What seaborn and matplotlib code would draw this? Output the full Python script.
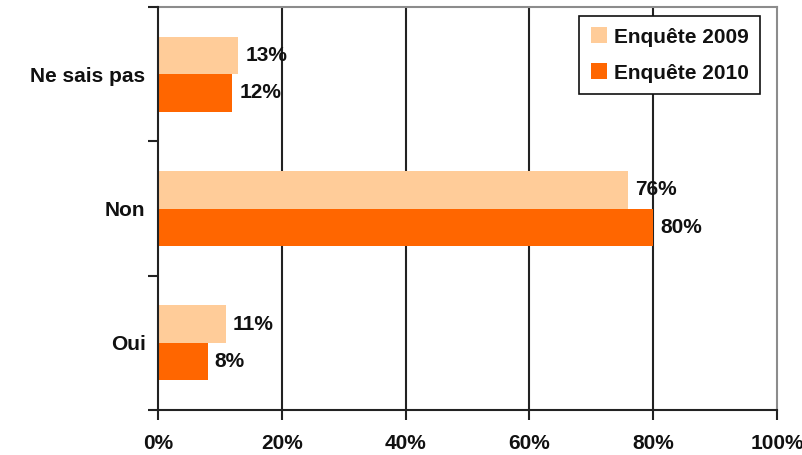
import matplotlib
matplotlib.use("Agg")
import matplotlib.pyplot as plt
from matplotlib.ticker import FixedLocator
import seaborn as sns
import pandas as pd

# Survey answers and shares (%) per survey year
categories = ["Ne sais pas", "Non", "Oui"]
series_names = ["Enquête 2009", "Enquête 2010"]
values_2009 = [13, 76, 11]
values_2010 = [12, 80, 8]
x_ticks = [0, 20, 40, 60, 80, 100]
x_tick_labels = ["0%", "20%", "40%", "60%", "80%", "100%"]

df = pd.DataFrame({
    "Réponse": categories * 2,
    "Enquête": [series_names[0]] * 3 + [series_names[1]] * 3,
    "Part": values_2009 + values_2010,
})

sns.set_theme(style="white")
plt.rcParams["font.family"] = ["Liberation Sans", "DejaVu Sans"]
plt.rcParams["font.weight"] = "bold"

FS = 15
TXT = "#111111"

fig = plt.figure(figsize=(8.03, 4.55), dpi=100)
ax = fig.add_axes([0.1968, 0.0989, 0.9676 - 0.1968, 0.9846 - 0.0989])

palette = {series_names[0]: "#FFCC99", series_names[1]: "#FF6600"}
sns.barplot(data=df, y="Réponse", x="Part", hue="Enquête", order=categories,
            hue_order=series_names, palette=palette, orient="h", width=0.56,
            saturation=1, ax=ax, zorder=3, linewidth=0)

for container in ax.containers:
    ax.bar_label(container, fmt="%d%%", padding=5, fontsize=FS,
                 fontweight="bold", color=TXT, zorder=5)

ax.set_xlim(0, 100)
ax.set_ylim(2.5, -0.5)
ax.set_xlabel("")
ax.set_ylabel("")

# x axis: percentages, ticks pointing down
ax.set_xticks(x_ticks)
ax.set_xticklabels(x_tick_labels, fontsize=FS, fontweight="bold", color=TXT)
ax.tick_params(axis="x", direction="out", length=7, width=1.5, color="#222222",
               pad=10, bottom=True)

# y axis: labels at category centres, tick marks at category boundaries
ax.set_yticks(range(len(categories)))
ax.set_yticklabels(categories, fontsize=FS, fontweight="bold", color=TXT)
ax.tick_params(axis="y", which="major", length=0, pad=9)
ax.yaxis.set_minor_locator(FixedLocator([-0.5, 0.5, 1.5, 2.5]))
ax.tick_params(axis="y", which="minor", direction="out", length=7, width=1.5,
               color="#222222", left=True)

# vertical gridlines
for xv in x_ticks[1:-1]:
    ax.axvline(xv, color="#222222", linewidth=1.5, zorder=1)

for side in ("left", "bottom"):
    ax.spines[side].set_color("#222222")
    ax.spines[side].set_linewidth(1.5)
for side in ("top", "right"):
    ax.spines[side].set_color("#8c8c8c")
    ax.spines[side].set_linewidth(1.5)
ax.spines["left"].set_zorder(4)

leg = ax.legend(loc="upper right", bbox_to_anchor=(760 / 803, 1 - 16 / 455),
                bbox_transform=fig.transFigure, frameon=True, fancybox=False,
                prop={"size": FS, "weight": "bold"}, handlelength=0.8,
                handleheight=0.8, handletextpad=0.3, borderpad=0.55,
                labelspacing=0.8, borderaxespad=0)
leg.get_frame().set_edgecolor(TXT)
leg.get_frame().set_linewidth(1.2)
leg.get_frame().set_facecolor("white")
leg.get_frame().set_alpha(1)
for t in leg.get_texts():
    t.set_color(TXT)

fig.savefig("out.png", dpi=100)
